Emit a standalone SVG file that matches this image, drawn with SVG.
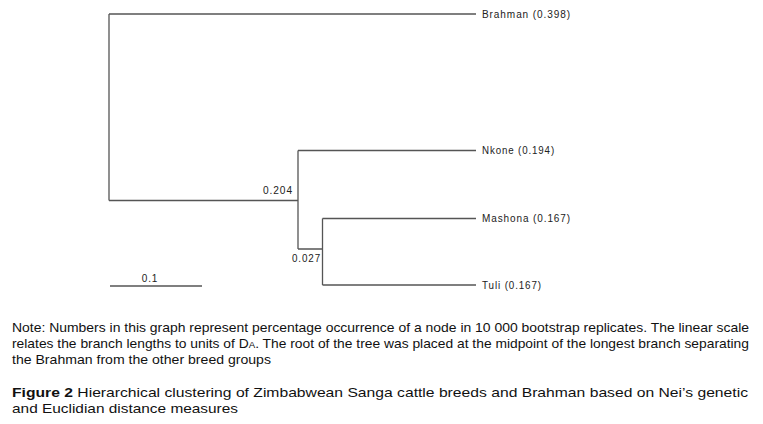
<svg xmlns="http://www.w3.org/2000/svg" width="763" height="424" viewBox="0 0 763 424">
<style>
.ln{stroke:#555;stroke-width:1.3;fill:none}
.lb{font-family:"Liberation Sans",Arial,sans-serif;font-size:10px;fill:#222;letter-spacing:0.9px}
.nt{font-family:"Liberation Sans",Arial,sans-serif;font-size:13.5px;fill:#111}
.fb{font-weight:bold}
</style>
<rect width="763" height="424" fill="#fff"/>
<g id="connectors">
<path class="ln" d="M109,14 V200.5 M109,14 H476 M109,200.5 H298 M298,150.5 V249 M298,150.5 H476 M298,249 H322.5 M322.5,218.5 V285 M322.5,218.5 H476 M322.5,285 H476"/>
</g>
<g id="node-brahman"><text class="lb" x="482" y="18" textLength="89" lengthAdjust="spacingAndGlyphs">Brahman (0.398)</text></g>
<g id="node-nkone"><text class="lb" x="482" y="154" textLength="73" lengthAdjust="spacingAndGlyphs">Nkone (0.194)</text></g>
<g id="node-mashona"><text class="lb" x="482" y="222" textLength="89" lengthAdjust="spacingAndGlyphs">Mashona (0.167)</text></g>
<g id="node-tuli"><text class="lb" x="482" y="289" textLength="60" lengthAdjust="spacingAndGlyphs">Tuli (0.167)</text></g>
<g id="node-inner1"><text class="lb" x="263" y="194" textLength="30" lengthAdjust="spacingAndGlyphs">0.204</text></g>
<g id="node-inner2"><text class="lb" x="292" y="262" textLength="29" lengthAdjust="spacingAndGlyphs">0.027</text></g>
<g id="scale">
<line class="ln" x1="110" y1="286" x2="202" y2="286"/>
<text class="lb" x="150" y="282" text-anchor="middle">0.1</text>
</g>
<g id="caption">
<text class="nt" x="12" y="332" textLength="737" lengthAdjust="spacingAndGlyphs">Note: Numbers in this graph represent percentage occurrence of a node in 10 000 bootstrap replicates. The linear scale</text>
<text class="nt" x="12" y="348" textLength="737" lengthAdjust="spacingAndGlyphs">relates the branch lengths to units of D<tspan font-size="9.5">A</tspan>. The root of the tree was placed at the midpoint of the longest branch separating</text>
<text class="nt" x="12" y="364" textLength="259" lengthAdjust="spacingAndGlyphs">the Brahman from the other breed groups</text>
<text class="nt" x="12" y="397" textLength="736" lengthAdjust="spacingAndGlyphs"><tspan class="fb">Figure 2</tspan> Hierarchical clustering of Zimbabwean Sanga cattle breeds and Brahman based on Nei’s genetic</text>
<text class="nt" x="12" y="413" textLength="226" lengthAdjust="spacingAndGlyphs">and Euclidian distance measures</text>
</g>
</svg>
